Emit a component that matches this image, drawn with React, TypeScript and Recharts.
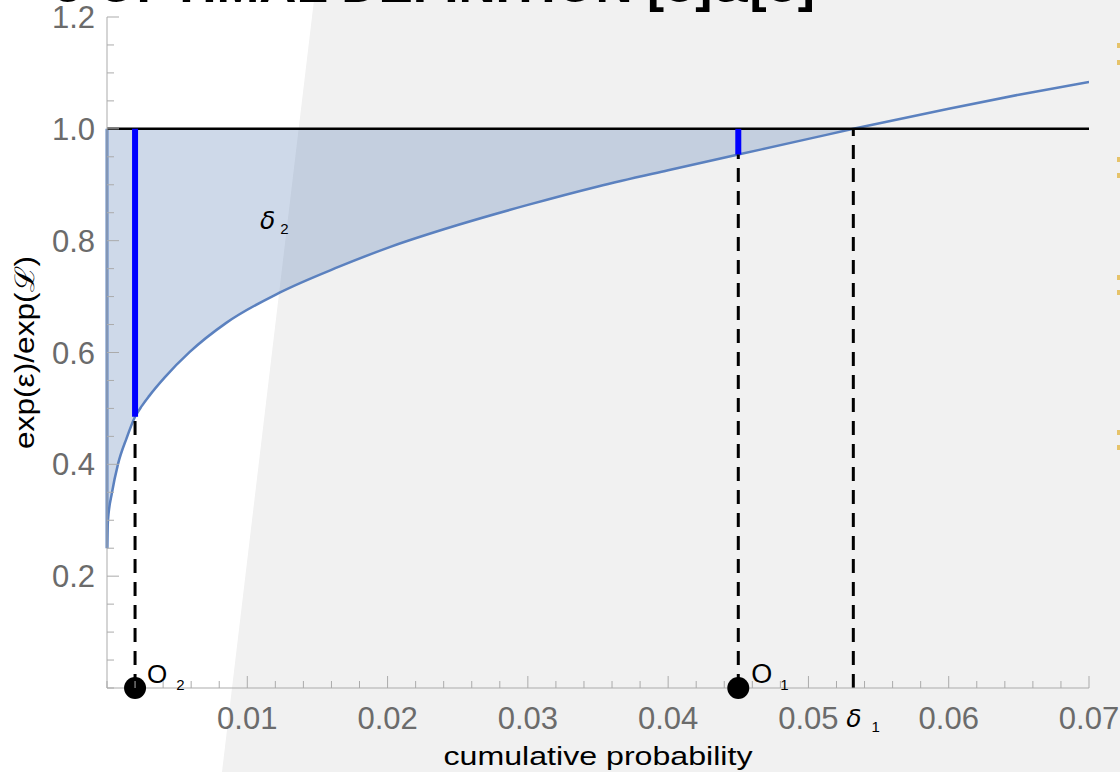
import React from 'react';
import { ComposedChart, Line, Area, XAxis, YAxis, ReferenceLine, ReferenceDot } from 'recharts';

// ---- data ----
const cumProb = [0, 0.00007, 0.00036, 0.00078, 0.0014, 0.002, 0.0025, 0.003, 0.0041, 0.0059, 0.0085, 0.0123, 0.0165, 0.0202, 0.025, 0.03, 0.035, 0.04, 0.045, 0.05, 0.0532, 0.06, 0.065, 0.07];
const ratio = [0.25, 0.3, 0.35, 0.4, 0.447, 0.485, 0.505, 0.522, 0.555, 0.601, 0.653, 0.707, 0.753, 0.789, 0.828, 0.864, 0.897, 0.926, 0.954, 0.982, 1.0, 1.036, 1.061, 1.084];

const o2X = 0.002;
const o1X = 0.045;
const delta1X = 0.0532;
const delta2Pos = { x: 0.0109, y: 0.82 };
const threshold = 1.0;

const xMajorTicks = [0.01, 0.02, 0.03, 0.04, 0.05, 0.06, 0.07];
const xTickLabels = ['0.01', '0.02', '0.03', '0.04', '0.05', '0.06', '0.07'];
const yMajorTicks = [0.2, 0.4, 0.6, 0.8, 1.0, 1.2];
const yTickLabels = ['0.2', '0.4', '0.6', '0.8', '1.0', '1.2'];
const xAllTicks = Array.from({ length: 36 }, (_, i) => (i * 2) / 1000);
const yAllTicks = Array.from({ length: 25 }, (_, i) => (i * 5) / 100);

const yellowMarks = [43, 60, 157, 173, 275, 290, 430, 445];

const curveRows = cumProb.map((x, i) => ({ x, y: ratio[i] }));
const fillRows = cumProb
  .map((x, i) => ({ x, band: [ratio[i], threshold] }))
  .filter((r) => r.x <= delta1X);
const valueAt = (x: number) => ratio[cumProb.indexOf(x)];

const SANS = "'Liberation Sans', Arial, Helvetica, sans-serif";
const AXIS_GREY = '#ababab';
const TICK_TEXT = '#6b6b6b';
const CURVE = '#5b81bf';

const findIdx = (arr: number[], v: number) => arr.findIndex((m) => Math.abs(m - v) < 1e-9);

const XTick = (props: any) => {
  const { x, y, payload } = props;
  const idx = findIdx(xMajorTicks, payload.value);
  const major = idx >= 0;
  return (
    <g>
      <line x1={x} x2={x} y1={y} y2={y - (major ? 12 : 7)} stroke={AXIS_GREY} strokeWidth={1} />
      {major && (
        <text x={x} y={y + 41} textAnchor="middle" fontSize={31} fill={TICK_TEXT} fontFamily={SANS}>
          {xTickLabels[idx]}
        </text>
      )}
    </g>
  );
};

const YTick = (props: any) => {
  const { x, y, payload } = props;
  const idx = findIdx(yMajorTicks, payload.value);
  const major = idx >= 0;
  return (
    <g>
      <line x1={x} x2={x + (major ? 12 : 7)} y1={y} y2={y} stroke={AXIS_GREY} strokeWidth={1} />
      {major && (
        <text x={x - 12} y={y + 11} textAnchor="end" fontSize={31} fill={TICK_TEXT} fontFamily={SANS}>
          {yTickLabels[idx]}
        </text>
      )}
    </g>
  );
};

const SubLabel = (props: any) => {
  const { viewBox, main, sub, dx, dy, italic, size, subSize, subDx, subDy, family } = props;
  const cx = viewBox.x + viewBox.width / 2;
  const cy = viewBox.y + viewBox.height / 2;
  return (
    <text x={cx + dx} y={cy + dy} fontSize={size} fontFamily={family || SANS} fill="#000">
      <tspan fontStyle={italic ? 'italic' : 'normal'}>{main}</tspan>
      <tspan dx={subDx} dy={subDy} fontSize={subSize} fontStyle="normal" fontFamily={SANS}>
        {sub}
      </tspan>
    </text>
  );
};

const XTitle = (props: any) => {
  const { viewBox } = props;
  return (
    <text
      x={viewBox.x + viewBox.width / 2}
      y={viewBox.y + 77}
      textAnchor="middle"
      fontSize={26}
      fill="#000"
      fontFamily={SANS}
      textLength={309}
      lengthAdjust="spacingAndGlyphs"
    >
      cumulative probability
    </text>
  );
};

const YTitle = (props: any) => {
  const { viewBox } = props;
  const cx = 34;
  const cy = viewBox.y + viewBox.height / 2;
  return (
    <text
      x={cx}
      y={cy}
      transform={`rotate(-90, ${cx}, ${cy})`}
      textAnchor="middle"
      fontSize={27}
      fill="#000"
      fontFamily={SANS}
      textLength={193}
      lengthAdjust="spacingAndGlyphs"
    >
      exp(ε)/exp(ℒ)
    </text>
  );
};

export default function App() {
  return (
    <div style={{ position: 'relative', width: 1120, height: 772, background: '#fff', overflow: 'hidden' }}>
      <style>{'body{margin:0}'}</style>
      <svg width={1120} height={772} style={{ position: 'absolute', left: 0, top: 0 }}>
        <polygon points="314,0 1120,0 1120,772 222,772" fill="#f1f1f1" />
        {yellowMarks.map((y, i) => (
          <rect key={i} x={1117} y={y} width={3} height={5} fill="#e6c36a" />
        ))}
        <text
          x={55}
          y={2}
          fontSize={50}
          fontWeight="bold"
          fill="#000"
          fontFamily={SANS}
          textLength={760}
          lengthAdjust="spacingAndGlyphs"
        >
          ε-OPTIMAL DEFINITION [δ]&amp;[δ]
        </text>
      </svg>
      <div style={{ position: 'absolute', left: 0, top: 0 }}>
        <ComposedChart width={1120} height={772} data={curveRows} margin={{ top: 17, right: 31, bottom: 0, left: 0 }}>
          <XAxis
            dataKey="x"
            type="number"
            domain={[0, 0.07]}
            ticks={xAllTicks}
            interval={0}
            tickLine={false}
            tickSize={0}
            tickMargin={0}
            tick={(p: any) => <XTick {...p} />}
            axisLine={{ stroke: AXIS_GREY, strokeWidth: 1 }}
            height={84}
            allowDataOverflow
            label={<XTitle />}
          />
          <YAxis
            type="number"
            domain={[0, 1.2]}
            ticks={yAllTicks}
            interval={0}
            tickLine={false}
            tickSize={0}
            tickMargin={0}
            tick={(p: any) => <YTick {...p} />}
            axisLine={{ stroke: AXIS_GREY, strokeWidth: 1 }}
            width={107}
            allowDataOverflow
            label={<YTitle />}
          />
          <Area
            data={fillRows}
            dataKey="band"
            type="monotone"
            stroke="none"
            fill="#5e81b5"
            fillOpacity={0.3}
            isAnimationActive={false}
          />
          <Line
            dataKey="y"
            type="monotone"
            stroke={CURVE}
            strokeWidth={2.5}
            dot={false}
            activeDot={false}
            isAnimationActive={false}
          />
          <ReferenceLine
            segment={[{ x: 0, y: ratio[0] }, { x: 0, y: threshold }]}
            stroke={CURVE}
            strokeWidth={3}
          />
          <ReferenceLine y={threshold} stroke="#000" strokeWidth={2.5} />
          <ReferenceLine
            segment={[{ x: o2X, y: valueAt(o2X) }, { x: o2X, y: threshold }]}
            stroke="#0000ff"
            strokeWidth={6}
          />
          <ReferenceLine
            segment={[{ x: o1X, y: valueAt(o1X) }, { x: o1X, y: threshold }]}
            stroke="#0000ff"
            strokeWidth={6}
          />
          <ReferenceLine
            segment={[{ x: o2X, y: 0 }, { x: o2X, y: valueAt(o2X) }]}
            stroke="#000"
            strokeWidth={3}
            strokeDasharray="14 9"
          />
          <ReferenceLine
            segment={[{ x: o1X, y: 0 }, { x: o1X, y: valueAt(o1X) }]}
            stroke="#000"
            strokeWidth={3}
            strokeDasharray="14 9"
          />
          <ReferenceLine
            segment={[{ x: delta1X, y: 0 }, { x: delta1X, y: threshold }]}
            stroke="#000"
            strokeWidth={3}
            strokeDasharray="14 9"
          />
          <ReferenceDot
            x={o2X}
            y={0}
            r={11}
            fill="#000"
            stroke="none"
            label={<SubLabel main="O" sub="2" dx={12} dy={-5} size={26} subSize={15} subDx={9} subDy={7} />}
          />
          <ReferenceDot
            x={o1X}
            y={0}
            r={11}
            fill="#000"
            stroke="none"
            label={<SubLabel main="O" sub="1" dx={13} dy={-5} size={27} subSize={15} subDx={8} subDy={7} />}
          />
          <ReferenceDot
            x={delta1X}
            y={0}
            r={1}
            fill="none"
            stroke="none"
            label={
              <SubLabel
                main="δ"
                sub="1"
                dx={-7}
                dy={39}
                size={25}
                subSize={15}
                subDx={10}
                subDy={5}
                italic
                family="'DejaVu Sans', sans-serif"
              />
            }
          />
          <ReferenceDot
            x={delta2Pos.x}
            y={delta2Pos.y}
            r={1}
            fill="none"
            stroke="none"
            label={
              <SubLabel
                main="δ"
                sub="2"
                dx={0}
                dy={0}
                size={25}
                subSize={15}
                subDx={5}
                subDy={5}
                italic
                family="'DejaVu Sans', sans-serif"
              />
            }
          />
        </ComposedChart>
      </div>
    </div>
  );
}
